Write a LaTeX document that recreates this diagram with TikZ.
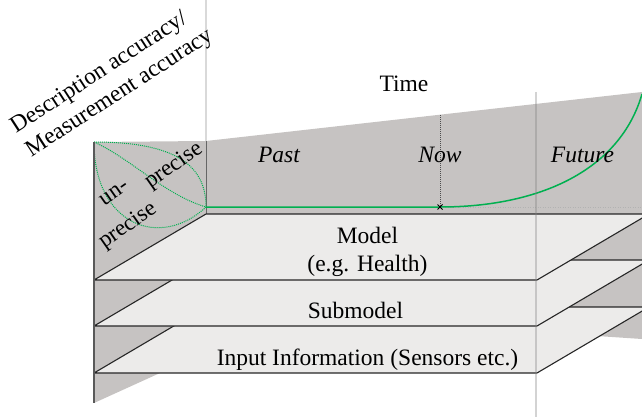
\documentclass[tikz,border=0pt]{standalone}
\usepackage{fontspec}
\setmainfont{Liberation Serif}
\definecolor{wallgray}{HTML}{C6C3C2}
\definecolor{plategray}{HTML}{ECEBEA}
\definecolor{accgreen}{HTML}{00B050}
\begin{document}
\begin{tikzpicture}[x=1pt,y=-1pt,
  lbl/.style={font=\fontsize{23.5}{28}\selectfont, inner sep=0pt},
  ilbl/.style={font=\fontsize{23.5}{28}\selectfont\itshape, inner sep=0pt},
  slbl/.style={font=\fontsize{23}{27}\selectfont, inner sep=0pt, rotate=35},
  plate/.style={fill=plategray, draw=black!85, line width=1.1pt, line join=round},
  curveline/.style={draw=accgreen, line width=1.5pt},
  leafline/.style={draw=accgreen, line width=1pt, dash pattern=on 1pt off 1pt},
  guide/.style={draw=gray, line width=1.5pt, opacity=0.35}]
\useasboundingbox (0,0) rectangle (642,417);
\clip (0,0) rectangle (642,417);

% corner points of the walls
\coordinate (wLT) at (94,142);
\coordinate (wBT) at (206,141);
\coordinate (wRT) at (642,92);
\coordinate (wRB) at (642,339);
\coordinate (wRBi) at (597,336);
\coordinate (wLBi) at (160,373);
\coordinate (wLB) at (94,403);
\coordinate (wBB) at (206,214);

% side wall and back wall
\fill[wallgray] (wLT) -- (wBT) -- (wRT) -- (wRB) -- (wRBi) -- (wLBi) -- (wLB) -- cycle;
\draw[black!15, line width=1.5pt] (206,0) -- (wBT);
\draw[black!60, line width=1pt] (wBT) -- (wBB);

% time axis: "now" marker and accuracy curve
\coordinate (nowTop) at (440,115);
\coordinate (nowPt) at (440,207);
\coordinate (startPt) at (206,207);
\coordinate (endPt) at (642,94);
\coordinate (rightBase) at (642,207);
\draw[black!30, line width=0.8pt, dash pattern=on 1pt off 1.5pt] (nowPt) -- (rightBase);
\draw[black!70, line width=1pt, dash pattern=on 1pt off 1pt] (nowTop) -- (nowPt);
\draw[curveline] (startPt) -- (nowPt) .. controls (540,207) and (620,170) .. (endPt);
\draw[black, line width=0.8pt] ([shift={(-2.5,-2.5)}]nowPt) -- ([shift={(2.5,2.5)}]nowPt)
  ([shift={(-2.5,2.5)}]nowPt) -- ([shift={(2.5,-2.5)}]nowPt);

% accuracy lens on the side wall
\draw[leafline] (wLT) .. controls (175,142) and (206,165) .. (startPt);
\draw[leafline] (wLT) .. controls (130,158) and (165,195) .. (startPt);
\draw[leafline] (wLT) .. controls (94,225) and (160,250) .. (startPt);

% stacked layers, back to front
\draw[plate] (94,373) -- (537,373) -- (649,307) -- (206,307) -- cycle;
\draw[plate] (94,326) -- (537,326) -- (649,260) -- (206,260) -- cycle;
\draw[plate] (94,280) -- (537,280) -- (649,214) -- (206,214) -- cycle;

% front edge of the side wall and future divider
\draw[black!65, line width=1.5pt] (wLT) -- (wLB);
\draw[guide] (536,92) -- (536,417);

% labels
\node[lbl, anchor=base] (time) at (404,92) {Time};
\node[ilbl, anchor=base] (past) at (279,162) {Past};
\node[ilbl, anchor=base] (now) at (440,162) {Now};
\node[ilbl, anchor=base] (future) at (582.5,162) {Future};
\node[lbl, anchor=base] (model) at (367.5,243) {Model};
\node[lbl, anchor=base] (modelsub) at (367.5,271.5) {(e.g. Health)};
\node[lbl, anchor=base] (submodel) at (355.5,318) {Submodel};
\node[lbl, anchor=base] (input) at (367.5,365) {Input Information (Sensors etc.)};
\node[lbl, rotate=33, align=left] (axis) at (112,82)
  {Description accuracy/\\Measurement accuracy};
\node[slbl] (un) at (114,193) {un-};
\node[slbl] (preciseLow) at (128,226) {precise};
\node[slbl] (preciseHigh) at (174,166) {precise};
\end{tikzpicture}
\end{document}
